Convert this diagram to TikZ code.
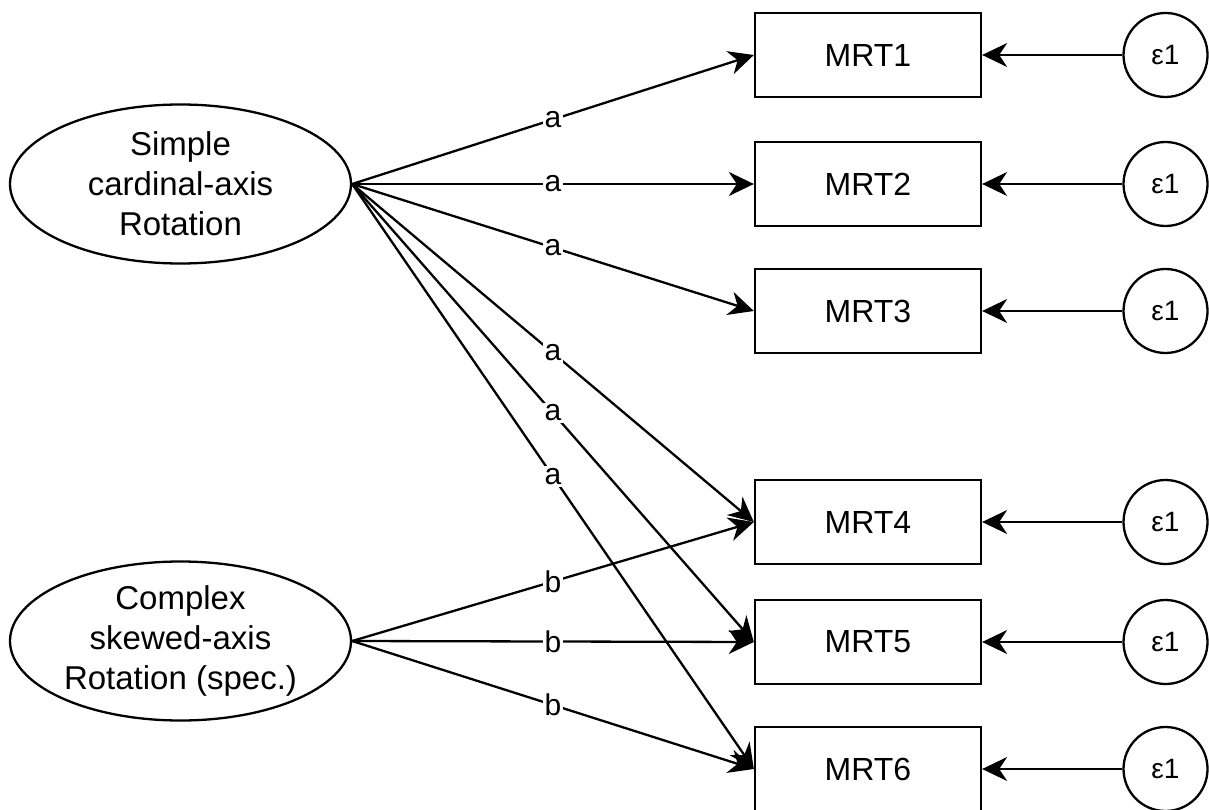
\documentclass[tikz,border=0pt]{standalone}
\usepackage{fontspec}
\setmainfont{Liberation Sans}
\usetikzlibrary{arrows.meta,shapes.geometric}

\begin{document}
\begin{tikzpicture}[x=1pt,y=-1pt,
  every node/.style={font=\fontsize{32}{40}\selectfont},
  latent/.style={ellipse, draw, line width=2.3pt, minimum width=341pt,
    minimum height=159pt, align=center, inner sep=0pt,
    font=\fontsize{33}{40}\selectfont},
  obs/.style={rectangle, draw, line width=2.3pt, minimum width=226pt,
    minimum height=84pt, inner sep=0pt},
  err/.style={circle, draw, line width=2.3pt, minimum size=84pt,
    inner sep=0pt, font=\fontsize{28}{32}\selectfont},
  load/.style={line width=2.3pt, -{Stealth[length=25pt,width=24pt,inset=8pt]}},
  coef/.style={fill=white, inner sep=2pt, font=\fontsize{30}{34}\selectfont}
]
\useasboundingbox (0,0) rectangle (1209,810);

% latent factors
\node[latent] (simple) at (180.5,184) {Simple\\cardinal-axis\\Rotation};
\node[latent] (complex) at (180.5,641) {Complex\\skewed-axis\\Rotation (spec.)};

% indicators and their error terms
\foreach \i/\y in {1/55,2/184,3/311,4/522,5/642,6/769}{
  \node[obs] (m\i) at (868,\y) {MRT\i};
  \node[err] (e\i) at (1165.5,\y) {ε1};
  \draw[load] (e\i) -- (m\i);
}

% loadings of the simple factor
\foreach \i in {1,...,6}{
  \draw[load] (simple.east) -- node[coef] {a} (m\i.west);
}

% loadings of the complex factor
\foreach \i in {4,5,6}{
  \draw[load] (complex.east) -- node[coef] {b} (m\i.west);
}
\end{tikzpicture}
\end{document}
